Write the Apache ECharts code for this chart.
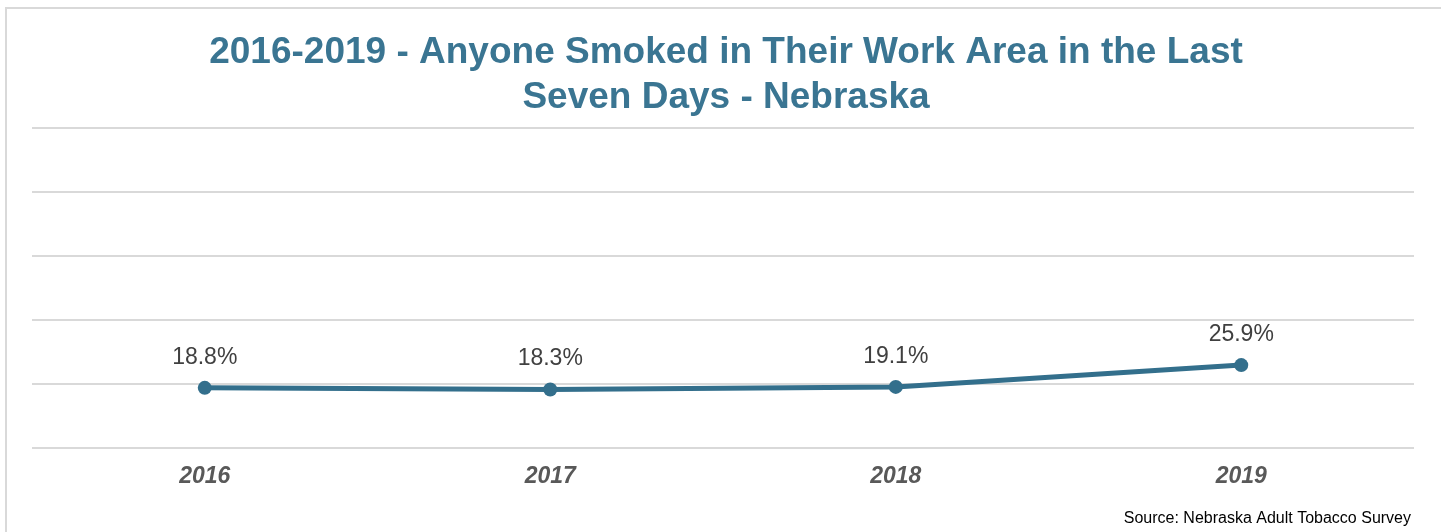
<!DOCTYPE html>
<html>
<head>
<meta charset="utf-8">
<script src="https://cdn.jsdelivr.net/npm/echarts@6/dist/echarts.min.js"></script>
<style>
html,body{margin:0;padding:0;background:#fff;}
#chart{width:1441px;height:532px;}
</style>
</head>
<body>
<div id="chart"></div>
<script>
const years = ['2016', '2017', '2018', '2019'];
const values = [18.8, 18.3, 19.1, 25.9];
const valueLabels = ['18.8%', '18.3%', '19.1%', '25.9%'];
const titleText = '2016-2019 - Anyone Smoked in Their Work Area in the Last\nSeven Days - Nebraska';
const sourceText = 'Source: Nebraska Adult Tobacco Survey';

const chart = echarts.init(document.getElementById('chart'));
chart.setOption({
  animation: false,
  backgroundColor: '#fff',
  title: {
    text: titleText,
    left: 721,
    textAlign: 'center',
    top: 25,
    textStyle: {
      fontFamily: 'Liberation Sans, Arial, sans-serif',
      fontSize: 37,
      fontWeight: 'bold',
      color: '#3a7592',
      lineHeight: 45
    }
  },
  graphic: [
    {
      type: 'rect',
      shape: { x: 6, y: 8, width: 1500, height: 600 },
      style: { fill: 'none', stroke: '#d9d9d9', lineWidth: 2 },
      silent: true
    },
    {
      type: 'text',
      right: 30,
      top: 511,
      style: {
        text: sourceText,
        font: '16px Liberation Sans, Arial, sans-serif',
        fill: '#000'
      }
    }
  ],
  grid: { left: 32, right: 27, top: 128, bottom: 84 },
  xAxis: {
    type: 'category',
    data: years,
    boundaryGap: true,
    axisLine: { show: false },
    axisTick: { show: false },
    axisLabel: {
      margin: 17,
      fontFamily: 'Liberation Sans, Arial, sans-serif',
      fontSize: 23,
      fontWeight: 'bold',
      fontStyle: 'italic',
      color: '#595959'
    }
  },
  yAxis: {
    type: 'value',
    min: 0,
    max: 100,
    interval: 20,
    axisLabel: { show: false },
    axisLine: { show: false },
    axisTick: { show: false },
    splitLine: { lineStyle: { color: '#d9d9d9', width: 2 } }
  },
  series: [{
    type: 'line',
    data: values,
    symbol: 'circle',
    symbolSize: 14,
    lineStyle: { color: '#336f8c', width: 5 },
    itemStyle: { color: '#336f8c' },
    label: {
      show: true,
      position: 'top',
      distance: 12,
      formatter: (p) => valueLabels[p.dataIndex],
      fontFamily: 'Liberation Sans, Arial, sans-serif',
      fontSize: 23,
      color: '#404040'
    }
  }]
});
</script>
</body>
</html>
